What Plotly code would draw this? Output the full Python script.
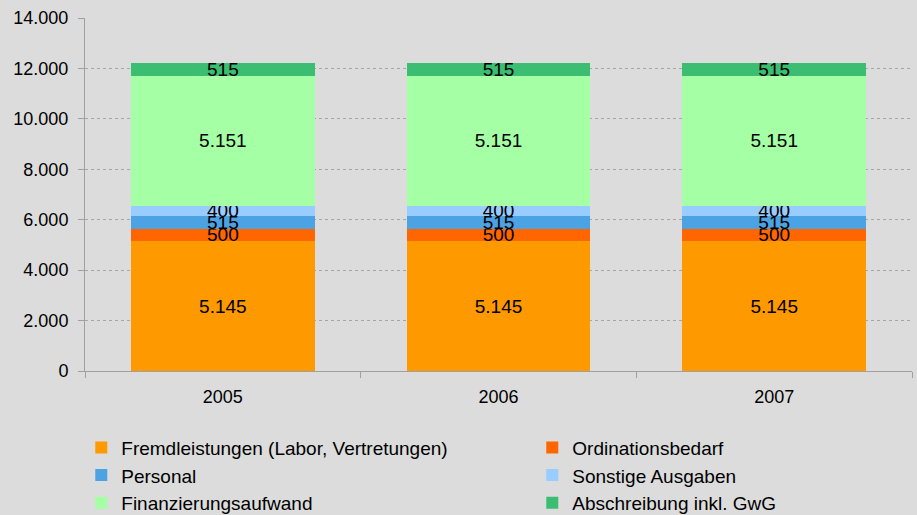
import plotly.graph_objects as go

years = ["2005", "2006", "2007"]
series_names = [
    "Fremdleistungen (Labor, Vertretungen)",
    "Ordinationsbedarf",
    "Personal",
    "Sonstige Ausgaben",
    "Finanzierungsaufwand",
    "Abschreibung inkl. GwG",
]
fremdleistungen = [5145, 5145, 5145]
ordinationsbedarf = [500, 500, 500]
personal = [515, 515, 515]
sonstige = [400, 400, 400]
finanzierung = [5151, 5151, 5151]
abschreibung = [515, 515, 515]
y_ticks = [0, 2000, 4000, 6000, 8000, 10000, 12000, 14000]

values = [fremdleistungen, ordinationsbedarf, personal, sonstige, finanzierung, abschreibung]
colors = ["#FF9900", "#FF6600", "#4CA3E3", "#99CCFF", "#A5FFA5", "#3CBE72"]
legend_widths = [406, 230, 406, 230, 406, 230]

FONT = "Liberation Sans, Arial, sans-serif"

fig = go.Figure()
for name, vals, col, lw in zip(series_names, values, colors, legend_widths):
    fig.add_trace(go.Bar(
        x=years, y=vals, name=name,
        marker=dict(color=col, line=dict(width=0)),
        texttemplate="%{y:,d}",
        textposition="inside",
        insidetextanchor="middle",
        textangle=0,
        constraintext="none",
        textfont=dict(family=FONT, size=19, color="#000000"),
        legendwidth=lw,
        hoverinfo="skip",
    ))

fig.update_layout(
    width=917, height=515,
    barmode="stack",
    bargap=0.333,
    separators=",.",
    paper_bgcolor="#DCDCDC",
    plot_bgcolor="#DCDCDC",
    margin=dict(l=85, r=5, t=18, b=144, pad=0, autoexpand=False),
    font=dict(family=FONT, size=18, color="#000000"),
    showlegend=True,
    legend=dict(
        orientation="h",
        traceorder="normal",
        x=-0.0045, xanchor="left",
        y=-0.163, yanchor="top",
        entrywidthmode="pixels",
        font=dict(family=FONT, size=19, color="#000000"),
        bgcolor="rgba(0,0,0,0)",
    ),
    xaxis=dict(
        type="category",
        showgrid=False,
        showline=True, linecolor="#A0A0A0", linewidth=1,
        ticks="outside", ticklen=6, tickcolor="#A0A0A0",
        tickson="boundaries",
        tickfont=dict(family=FONT, size=18, color="#000000"),
        ticklabelstandoff=9,
        automargin=False,
        fixedrange=True,
    ),
    yaxis=dict(
        range=[0, 14000],
        tickvals=y_ticks,
        tickformat=",d",
        showgrid=True, gridcolor="#A6A6A6", gridwidth=1, griddash="3px,3px",
        showline=True, linecolor="#A0A0A0", linewidth=1,
        ticks="outside", ticklen=6, tickcolor="#A0A0A0",
        tickfont=dict(family=FONT, size=18, color="#000000"),
        ticklabelstandoff=6,
        zeroline=False,
        automargin=False,
        fixedrange=True,
    ),
)

fig.write_html(
    "out.html",
    config={"displayModeBar": False},
    post_script="document.body.style.margin='0';document.body.style.overflow='hidden';",
)
